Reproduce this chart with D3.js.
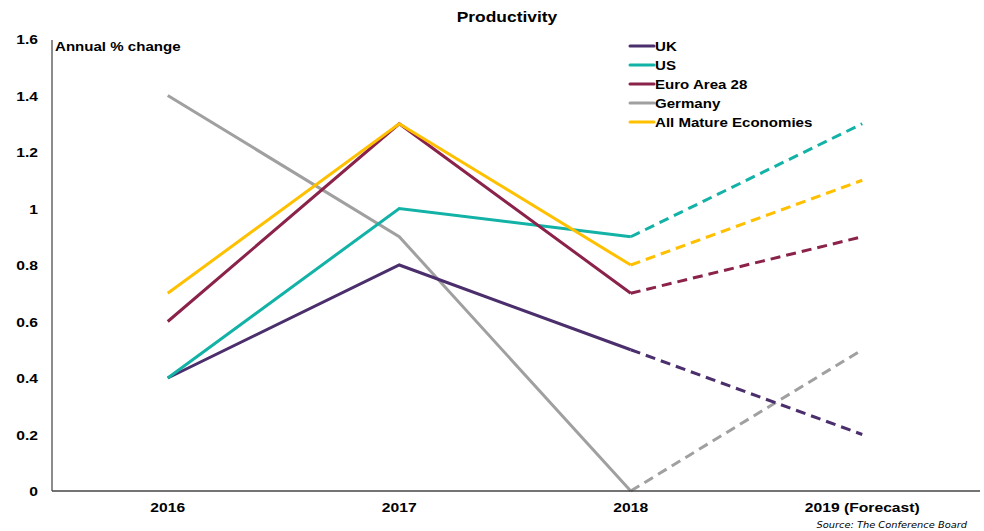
<!DOCTYPE html>
<html>
<head>
<meta charset="utf-8">
<title>Productivity</title>
<script src="https://d3js.org/d3.v7.min.js"></script>
<style>
  body { margin: 0; background: #fff; }
  svg { display: block; font-family: "Liberation Sans", Arial, sans-serif; }
  .tick-label { font-size: 13.5px; font-weight: bold; fill: #000; }
</style>
</head>
<body>
<div id="chart"></div>
<script>
// Data
const years = ["2016", "2017", "2018", "2019 (Forecast)"];
const seriesNames = ["UK", "US", "Euro Area 28", "Germany", "All Mature Economies"];
const seriesColors = ["#4b2e6c", "#12b2a6", "#8a2249", "#a0a0a0", "#ffc000"];
const ukValues = [0.4, 0.8, 0.5, 0.2];
const usValues = [0.4, 1.0, 0.9, 1.3];
const euroValues = [0.6, 1.3, 0.7, 0.9];
const germanyValues = [1.4, 0.9, 0.0, 0.5];
const matureValues = [0.7, 1.3, 0.8, 1.1];
const yTicks = [0, 0.2, 0.4, 0.6, 0.8, 1, 1.2, 1.4, 1.6];
const forecastFrom = 2; // index where dashed forecast starts

const allValues = [ukValues, usValues, euroValues, germanyValues, matureValues];
// draw order: back to front as in the reference
const drawOrder = [3, 0, 1, 2, 4];

const width = 984, height = 531;
const stretch = 1.16; // reference text is a bit wider than Arial

const svg = d3.select("#chart").append("svg")
  .attr("width", width).attr("height", height);

const x = d3.scaleBand().domain(years).range([52, 978]);
const y = d3.scaleLinear().domain([0, 1.6]).range([491, 39]);

// place text at (px, py) with a horizontal stretch
function placeText(sel, px, py) {
  return sel.attr("transform", `translate(${px},${py}) scale(${stretch},1)`);
}

// Title
placeText(svg.append("text"), 507, 22)
  .attr("text-anchor", "middle")
  .style("font-size", "15px").style("font-weight", "bold")
  .text("Productivity");

// Y axis labels
svg.selectAll(".ylab").data(yTicks).enter().append("text")
  .attr("class", "tick-label")
  .attr("transform", d => `translate(38,${y(d) + 5}) scale(${stretch},1)`)
  .attr("text-anchor", "end")
  .text(d => d3.format("")(d));

// X axis labels
svg.selectAll(".xlab").data(years).enter().append("text")
  .attr("class", "tick-label")
  .attr("transform", d => `translate(${x(d) + x.bandwidth() / 2},512) scale(${stretch},1)`)
  .attr("text-anchor", "middle")
  .text(d => d);

// Lines
const line = d3.line()
  .x(d => x(d.year) + x.bandwidth() / 2)
  .y(d => y(d.v));

drawOrder.forEach(i => {
  const pts = allValues[i].map((v, j) => ({ year: years[j], v }));
  svg.append("path")
    .attr("d", line(pts.slice(0, forecastFrom + 1)))
    .attr("fill", "none").attr("stroke", seriesColors[i])
    .attr("stroke-width", 3);
  svg.append("path")
    .attr("d", line(pts.slice(forecastFrom)))
    .attr("fill", "none").attr("stroke", seriesColors[i])
    .attr("stroke-width", 3)
    .attr("stroke-dasharray", "10,6");
});

// Axes lines
svg.append("line")
  .attr("x1", 52).attr("x2", 52).attr("y1", 40).attr("y2", 491)
  .attr("stroke", "#666").attr("stroke-width", 1.5);
svg.append("line")
  .attr("x1", 52).attr("x2", 980).attr("y1", 491).attr("y2", 491)
  .attr("stroke", "#444").attr("stroke-width", 1.5);

// Y axis title
placeText(svg.append("text"), 55, 51)
  .style("font-size", "13px").style("font-weight", "bold")
  .text("Annual % change");

// Legend
const legend = svg.append("g").attr("transform", "translate(630, 46)");
seriesNames.forEach((name, i) => {
  const row = legend.append("g").attr("transform", `translate(0, ${i * 19})`);
  row.append("line")
    .attr("x1", 0).attr("x2", 24).attr("y1", 0).attr("y2", 0)
    .attr("stroke", seriesColors[i]).attr("stroke-width", 3)
    .attr("stroke-linecap", "round");
  placeText(row.append("text"), 25, 5)
    .style("font-size", "13px").style("font-weight", "bold")
    .text(name);
});

// Source
svg.append("text")
  .attr("transform", `translate(967,528) scale(${stretch},1)`)
  .attr("text-anchor", "end")
  .style("font-family", "'DejaVu Sans', Verdana, sans-serif")
  .style("font-size", "8.5px").style("font-style", "italic")
  .text("Source: The Conference Board");
</script>
</body>
</html>
